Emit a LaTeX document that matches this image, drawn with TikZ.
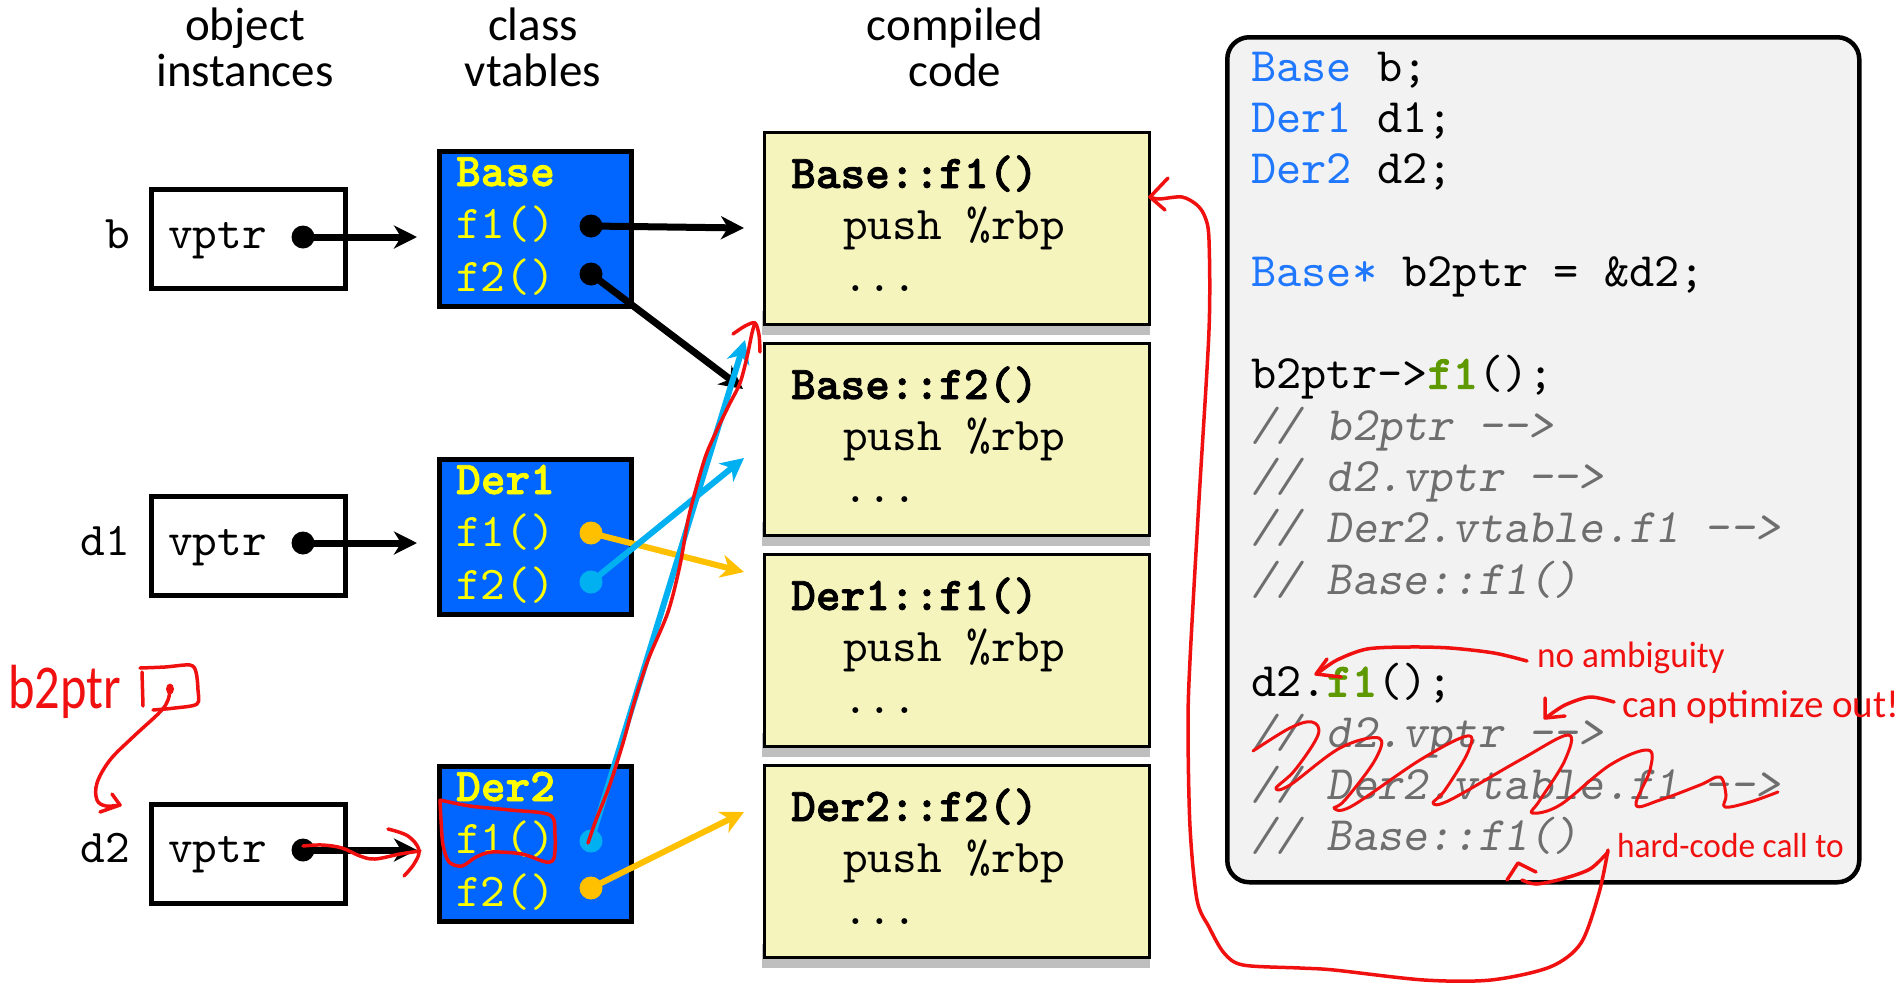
\documentclass[tikz,border=0pt]{standalone}
\usepackage{fontspec}
\usepackage{graphicx}
\usetikzlibrary{arrows.meta}
\newfontfamily\carl{Carlito}
\newfontfamily\mono{lmmono10-regular.otf}
\newfontfamily\monob{lmmonolt10-bold.otf}[FakeBold=1.6]
\newfontfamily\monoi{lmmonoslant10-regular.otf}
\definecolor{vtblue}{HTML}{0066FF}
\definecolor{vtyel}{HTML}{FFFF00}
\definecolor{cyanc}{HTML}{00B0F0}
\definecolor{orng}{HTML}{FFC000}
\definecolor{codeyel}{HTML}{F6F4BD}
\definecolor{shad}{HTML}{BFBFBF}
\definecolor{panelc}{HTML}{F2F2F2}
\definecolor{typ}{HTML}{1F78FF}
\definecolor{cmt}{HTML}{6E6E6E}
\definecolor{grn}{HTML}{5F9900}
\definecolor{ink}{HTML}{F01010}
\newcommand\dd{\mbox{-}\mbox{-}}
\begin{document}
\begin{tikzpicture}[x=1pt,y=-1pt,
 objbox/.style={draw=black, line width=4.5pt, fill=white, minimum width=194pt, minimum height=99pt, inner sep=0pt, anchor=north west},
 vtbox/.style={draw=black, line width=5pt, fill=vtblue, minimum width=192pt, minimum height=155pt, inner sep=0pt, anchor=north west},
 codebox/.style={draw=black, line width=2.5pt, fill=codeyel, minimum width=385pt, minimum height=192pt, inner sep=0pt, anchor=north west},
 mt/.style={font=\mono\fontsize{47}{47}\selectfont, anchor=base west, inner sep=0pt},
 mtb/.style={mt, font=\monob\fontsize{47}{47}\selectfont},
 pc/.style={font=\mono\fontsize{48}{48}\selectfont, anchor=base west, inner sep=0pt},
 pci/.style={pc, font=\monoi\fontsize{48}{48}\selectfont, text=cmt},
 ttl/.style={font=\carl\fontsize{47}{47}\selectfont, anchor=base, inner sep=0pt},
 pdot/.style={circle, fill=#1, minimum size=23pt, inner sep=0pt},
 blk/.style={-{Stealth[length=23pt,width=23pt,inset=7pt]}, line width=7pt, draw=#1},
 col/.style={-{Stealth[length=23pt,width=23pt,inset=7pt]}, line width=6pt, draw=#1},
 redink/.style={draw=ink, line width=3.5pt, line cap=round, line join=round},
 hw/.style={font=\carl\fontsize{32}{32}\selectfont, text=ink, anchor=base west, inner sep=0pt}
]
\useasboundingbox (0,0) rectangle (1903,983);
\fill[white] (0,0) rectangle (1903,983);

% titles
\node[ttl] (t1a) at (245,40) {object};
\node[ttl] (t1b) at (245,86) {instances};
\node[ttl] (t2a) at (533,40) {class};
\node[ttl] (t2b) at (533,86) {vtables};
\node[ttl] (t3a) at (955,40) {compiled};
\node[ttl] (t3b) at (955,86) {code};

% object instances
\node[objbox] (ob) at (149,187) {};
\node[objbox] (od1) at (149,494) {};
\node[objbox] (od2) at (149,802) {};
\node[mt, anchor=base east] (lb) at (130,248) {b};
\node[mt, anchor=base east] (ld1) at (130,555) {d1};
\node[mt, anchor=base east] (ld2) at (130,862) {d2};
\node[mt] (vb) at (168,248) {vptr};
\node[mt] (vd1) at (168,555) {vptr};
\node[mt] (vd2) at (168,862) {vptr};

% vtables
\node[vtbox] (vtb) at (437,149) {};
\node[vtbox] (vt1) at (437,457) {};
\node[vtbox] (vt2) at (437,764) {};
\node[mtb, text=vtyel] (nb) at (456,186) {Base};
\node[mt, text=vtyel] (nbf1) at (456,238) {f1()};
\node[mt, text=vtyel] (nbf2) at (456,291) {f2()};
\node[mtb, text=vtyel] (n1) at (456,494) {Der1};
\node[mt, text=vtyel] (n1f1) at (456,546) {f1()};
\node[mt, text=vtyel] (n1f2) at (456,599) {f2()};
\node[mtb, text=vtyel] (n2) at (456,801) {Der2};
\node[mt, text=vtyel] (n2f1) at (456,853) {f1()};
\node[mt, text=vtyel] (n2f2) at (456,906) {f2()};

% compiled code boxes
\foreach \t/\nm/\ttxt in {131/c1/Base::f1(), 342/c2/Base::f2(), 553/c3/Der1::f1(), 764/c4/Der2::f2()}{
  \fill[shad] (762,\t+180) rectangle (1150,\t+204);
  \node[codebox] (\nm) at (763,\t) {};
  \node[mtb] (\nm t) at (791,\t+57) {\ttxt};
  \node[mt] (\nm p) at (843,\t+108) {push \%rbp};
  \node[mt] (\nm d) at (843,\t+160) {...};
}

% arrow targets
\coordinate (tb) at (417,237);
\coordinate (td1) at (417,543);
\coordinate (td2) at (417,850);
\coordinate (c1a) at (744,228);
\coordinate (c1b) at (745,340);
\coordinate (c2a) at (743,389);
\coordinate (c2b) at (744,458);
\coordinate (c3a) at (744,572);
\coordinate (c4a) at (744,812);

% dots
\node[pdot=black] (db) at (303,237) {};
\node[pdot=black] (dd1) at (303,543) {};
\node[pdot=black] (dd2) at (303,850) {};
\node[pdot=black] (bf1) at (591,226) {};
\node[pdot=black] (bf2) at (591,274) {};
\node[pdot=orng] (d1f1) at (591,533) {};
\node[pdot=cyanc] (d1f2) at (591,582) {};
\node[pdot=cyanc] (d2f1) at (591,841) {};
\node[pdot=orng] (d2f2) at (591,888) {};

% pointers
\draw[blk=black] (db.center) -- (tb);
\draw[blk=black] (dd1.center) -- (td1);
\draw[blk=black] (dd2.center) -- (td2);
\draw[blk=black] (bf1.center) -- (c1a);
\draw[blk=black] (bf2.center) -- (c2a);
\draw[col=orng] (d1f1.center) -- (c3a);
\draw[col=cyanc] (d1f2.center) -- (c2b);
\draw[col=cyanc] (d2f1.center) -- (c1b);
\draw[col=orng] (d2f2.center) -- (c4a);

% code panel
\node[draw=black, line width=4.5pt, fill=panelc, rounded corners=22pt, minimum width=632pt, minimum height=845pt, inner sep=0pt, anchor=north west] (panel) at (1225,35) {};
\node[pc] (l0) at (1251,81) {\textcolor{typ}{Base} b;};
\node[pc] (l1) at (1251,132.3) {\textcolor{typ}{Der1} d1;};
\node[pc] (l2) at (1251,183.6) {\textcolor{typ}{Der2} d2;};
\node[pc] (l4) at (1251,286.2) {\textcolor{typ}{Base*} b2ptr = \&d2;};
\node[pc] (l6) at (1251,388.8) {b2ptr->{\monob\textcolor{grn}{f1}}();};
\node[pci] (l7) at (1251,440.1) {// b2ptr \dd>};
\node[pci] (l8) at (1251,491.4) {// d2.vptr \dd>};
\node[pci] (l9) at (1251,542.7) {// Der2.vtable.f1 \dd>};
\node[pci] (l10) at (1251,594) {// Base::f1()};
\node[pc] (l12) at (1251,696.6) {d2.{\monob\textcolor{grn}{f1}}();};
\node[pci] (l13) at (1251,747.9) {// d2.vptr \dd>};
\node[pci] (l14) at (1251,799.2) {// Der2.vtable.f1 \dd>};
\node[pci] (l15) at (1251,850.5) {// Base::f1()};

% ---------------- red hand annotations ----------------
% b2ptr pointer
\node[hw, font=\carl\fontsize{48}{48}\selectfont] (hb2) at (8,708) {\scalebox{1.05}[1.3]{b2ptr}};
\draw[redink] plot[smooth, tension=0.5] coordinates {(140,668) (165,667) (190,665) (196,672) (198,690) (197,704) (175,708) (153,710)};
\draw[redink] (142,672) -- (143,706);
\fill[ink] (170,689) ellipse (4pt and 5.5pt);
\draw[redink] plot[smooth, tension=0.6] coordinates {(170,689) (168,700) (160,712) (133,737) (110,760) (97,783) (97,800) (106,806) (120,805)};
\draw[redink] (112,794) -- (120,805) -- (100,812);

% d2 vptr squiggle
\draw[redink] plot[smooth, tension=0.6] coordinates {(303,846) (322,845) (342,848) (360,856) (375,859) (400,854) (420,851)};
\draw[redink] plot[smooth, tension=0.6] coordinates {(388,829) (408,836) (419,850) (414,864) (404,876)};

% loop around Der2 f1()
\draw[redink] plot[smooth, tension=0.5] coordinates {(440,800) (470,806) (510,810) (550,815) (555,835) (554,858) (546,862) (522,854) (492,852) (476,857) (462,866) (449,862) (443,845) (441,820) (440,800)};

% path along cyan pointer
\draw[redink] plot[smooth, tension=0.5] coordinates {(588,843) (596,820) (609,787) (623,743) (634,703) (648,660) (668,612) (680,565) (688,520) (697,485) (706,455) (716,432) (729,405) (740,383) (747,357) (752,333) (755,323)};
\draw[redink] plot[smooth, tension=0.5] coordinates {(733,334) (745,326) (755,323) (759,335) (760,352)};

% hard-code call arrow to Base::f1
\draw[redink] plot[smooth, tension=0.5] coordinates {(1608,850) (1599,893) (1581,943) (1550,967) (1491,980) (1424,980) (1334,970) (1300,968) (1243,965) (1224,953) (1209,927) (1197,900) (1190,827) (1188,727) (1190,660) (1199,500) (1209,330) (1209,240) (1205,217) (1197,205) (1182,197) (1159,199) (1150,197)};
\draw[redink] (1168,178) -- (1150,197) -- (1165,210);
\draw[redink] plot[smooth, tension=0.5] coordinates {(1608,852) (1590,869) (1562,879) (1536,884) (1522,880)};
\draw[redink] (1507,880) -- (1518,863) -- (1536,872);

% scribble over dead code
\draw[draw=ink, line width=3pt, line cap=round, line join=round] plot[smooth, tension=0.6] coordinates {(1253,751) (1290,728) (1312,722) (1318,735) (1295,770) (1276,788) (1290,785) (1340,748) (1379,738) (1375,760) (1345,800) (1334,808) (1352,806) (1420,760) (1467,736) (1468,752) (1445,790) (1433,803) (1450,800) (1520,760) (1568,735) (1565,760) (1540,800) (1532,813) (1560,805) (1610,765) (1648,750) (1650,770) (1636,805) (1660,800) (1700,785) (1720,777) (1726,795) (1725,807) (1750,802) (1778,792)};

% no ambiguity
\draw[redink] plot[smooth, tension=0.5] coordinates {(1527,661) (1494,653) (1450,648) (1409,647) (1367,649) (1337,660) (1318,673)};
\draw[redink] (1327,659) -- (1316,674) -- (1341,677);
\node[hw] (hna) at (1537,667) {\scalebox{1.1}[1.15]{no ambiguity}};

% can optimize out
\draw[redink] plot[smooth, tension=0.5] coordinates {(1614,702) (1590,697) (1565,705) (1547,717)};
\draw[redink] (1545,698) -- (1545,718) -- (1565,716);
\node[hw, font=\carl\fontsize{34}{34}\selectfont] (hco) at (1622,717) {\scalebox{1.15}[1.15]{can optimize out!}};

% hard-code call to
\node[hw, font=\carl\fontsize{29}{29}\selectfont] (hhc) at (1617,857) {\scalebox{1.15}[1.2]{hard-code call to}};
\end{tikzpicture}
\end{document}
